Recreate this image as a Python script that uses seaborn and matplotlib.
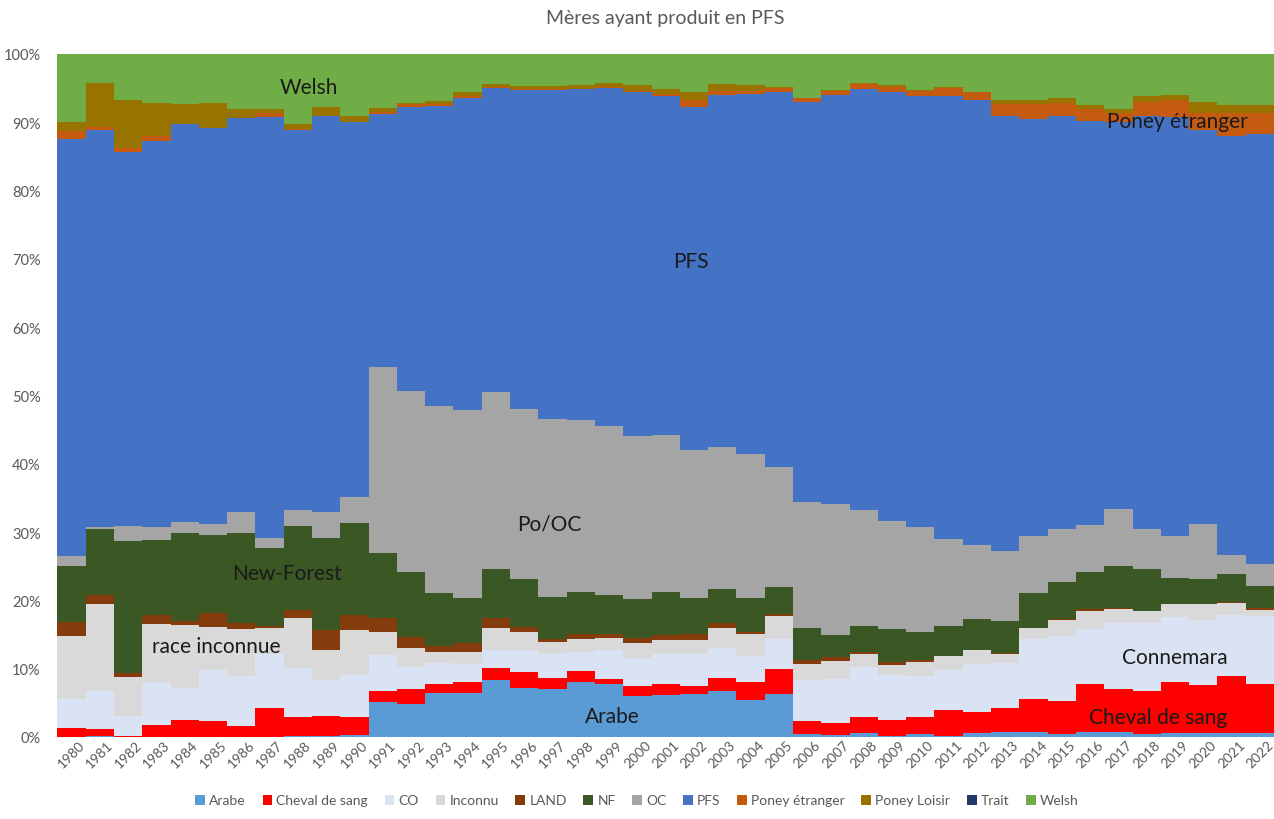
import numpy as np
import pandas as pd
import matplotlib.pyplot as plt
from matplotlib.patches import Patch
from matplotlib.ticker import PercentFormatter
import seaborn as sns

# years and share (%) of each breed of the mothers
years = list(range(1980, 2023))

arabe = [0, 0.2, 0, 0, 0, 0, 0, 0, 0.2, 0.2, 0.3, 5.1, 4.9, 6.4, 6.5, 8.4, 7.2, 7.0, 8.0, 7.8, 6.0, 6.1,
         6.3, 6.7, 5.4, 6.3, 0.4, 0.3, 0.6, 0.1, 0.5, 0.1, 0.6, 0.8, 0.7, 0.4, 0.8, 0.7, 0.5, 0.6, 0.6, 0.6, 0.6]
cheval = [1.3, 1.0, 0.2, 1.8, 2.5, 2.3, 1.6, 4.3, 2.7, 2.9, 2.7, 1.7, 2.2, 1.4, 1.6, 1.7, 2.3, 1.7, 1.6, 0.7, 1.4, 1.6,
          1.2, 2.0, 2.6, 3.6, 1.9, 1.7, 2.3, 2.4, 2.5, 3.9, 3.1, 3.5, 4.9, 4.9, 7.0, 6.4, 6.3, 7.5, 7.0, 8.4, 7.2]
co = [4.3, 5.5, 2.9, 6.3, 4.7, 7.5, 7.4, 7.8, 7.2, 5.3, 6.1, 5.2, 3.1, 3.0, 2.6, 2.7, 3.3, 3.4, 2.8, 4.2, 4.2, 4.5,
      4.7, 4.4, 3.9, 4.4, 6.1, 6.5, 7.4, 6.6, 6.0, 5.8, 7.0, 6.6, 8.8, 9.5, 8.0, 9.6, 9.9, 9.5, 9.6, 8.8, 9.9]
inconnu = [9.2, 12.8, 5.7, 8.4, 9.2, 6.3, 6.8, 3.9, 7.3, 4.3, 6.5, 3.3, 2.8, 1.7, 1.8, 3.2, 2.6, 1.8, 1.9, 1.8, 2.2, 2.0,
           2.0, 2.9, 3.2, 3.4, 2.3, 2.6, 1.9, 1.5, 2.0, 2.0, 2.0, 1.3, 1.5, 2.4, 2.7, 2.0, 1.7, 1.8, 2.2, 1.8, 0.9]
land = [2.1, 1.3, 0.5, 1.4, 0.6, 2.1, 0.9, 0.3, 1.2, 2.9, 2.2, 2.1, 1.7, 0.8, 1.2, 1.4, 0.7, 0.5, 0.8, 0.6, 0.7, 0.7,
        0.9, 0.7, 0.3, 0.3, 0.6, 0.6, 0.2, 0.4, 0.3, 0.1, 0.1, 0.1, 0.1, 0.1, 0.2, 0.2, 0.1, 0.1, 0.1, 0.1, 0.3]
nf = [8.2, 9.6, 19.4, 10.9, 12.8, 11.3, 13.1, 11.3, 12.3, 13.6, 13.6, 9.6, 9.5, 7.8, 6.7, 7.2, 7.0, 6.1, 6.1, 5.7, 5.7, 6.4,
      5.3, 4.9, 5.0, 3.9, 4.7, 3.3, 3.9, 4.8, 4.1, 4.4, 4.5, 4.7, 5.1, 5.4, 5.4, 6.2, 6.1, 3.8, 3.7, 4.1, 3.2]
oc = [1.4, 0.4, 2.2, 2.0, 1.7, 1.7, 3.1, 1.6, 2.3, 3.7, 3.8, 27.1, 26.5, 27.4, 27.4, 25.9, 24.9, 26.0, 25.2, 24.8, 23.8, 22.9,
      21.6, 20.8, 21.0, 17.7, 18.4, 19.1, 16.9, 15.8, 15.3, 12.7, 10.8, 10.2, 8.3, 7.8, 7.0, 8.3, 5.8, 6.1, 8.0, 2.8, 3.3]
pfs = [61.0, 58.1, 54.7, 56.4, 58.2, 58.0, 57.7, 61.5, 55.7, 58.0, 54.9, 37.1, 41.6, 43.9, 45.7, 44.5, 46.7, 48.2, 48.4, 49.4, 50.4, 49.6,
       50.3, 51.6, 52.7, 54.8, 58.6, 59.9, 61.7, 62.9, 63.1, 64.8, 65.2, 63.7, 61.1, 60.4, 59.1, 56.6, 60.5, 61.3, 57.6, 61.4, 62.9]
poney_etranger = [1.2, 0.4, 0.6, 0.8, 0, 0, 0, 0.6, 0.1, 0, 0, 0.3, 0.3, 0.3, 0.4, 0.2, 0.1, 0.2, 0.1, 0.1, 0.2, 0.4,
                  0.9, 0.6, 0.5, 0.6, 0.5, 0.6, 0.7, 0.7, 0.8, 1.2, 1.1, 1.7, 2.1, 1.9, 1.8, 1.4, 2.1, 2.6, 2.6, 3.4, 3.1]
poney_loisir = [1.3, 6.5, 7.1, 4.8, 3.0, 3.6, 1.4, 0.6, 0.8, 1.3, 0.8, 0.6, 0.2, 0.4, 0.6, 0.4, 0.5, 0.4, 0.5, 0.7, 0.9, 0.7,
                1.3, 1.0, 0.9, 0.1, 0.1, 0.1, 0.2, 0.2, 0.1, 0.1, 0.1, 0.6, 0.6, 0.7, 0.5, 0.6, 0.8, 0.7, 1.5, 1.1, 1.1]
trait = [0] * 43
welsh = [10.0, 4.2, 6.7, 7.2, 7.3, 7.2, 8.0, 8.1, 10.2, 7.8, 9.1, 7.9, 7.2, 6.9, 5.5, 4.4, 4.7, 4.7, 4.6, 4.2, 4.5, 5.1,
         5.5, 4.4, 4.5, 4.9, 6.4, 5.3, 4.2, 4.6, 5.3, 4.9, 5.5, 6.8, 6.8, 6.5, 7.5, 8.0, 6.2, 6.0, 7.1, 7.5, 7.5]

breeds = ['Arabe', 'Cheval de sang', 'CO', 'Inconnu', 'LAND', 'NF', 'OC', 'PFS',
          'Poney étranger', 'Poney Loisir', 'Trait', 'Welsh']
colors = ['#5B9BD5', '#FF0000', '#DAE3F3', '#D9D9D9', '#843C0C', '#3A5724', '#A5A5A5', '#4472C4',
          '#C55A11', '#997300', '#1F3864', '#70AD47']
series = [arabe, cheval, co, inconnu, land, nf, oc, pfs, poney_etranger, poney_loisir, trait, welsh]

rows = []
for b, vals in zip(breeds, series):
    for y, v in zip(years, vals):
        rows.append({'year': y, 'breed': b, 'share': v})
df = pd.DataFrame(rows)

sns.set_style('white')
plt.rcParams['font.family'] = ['Lato', 'DejaVu Sans']

fig = plt.figure(figsize=(12.74, 8.2), dpi=100)
ax = fig.add_axes([0.045, 0.10, 0.955, 0.833])

# seaborn stacks the last hue level at the bottom, so reverse the order
sns.histplot(data=df, x='year', weights='share', hue='breed',
             hue_order=breeds[::-1], palette=dict(zip(breeds, colors)),
             multiple='fill', discrete=True, element='step',
             alpha=1, linewidth=0, legend=False, ax=ax)

ax.set_xlim(1979.5, 2022.5)
ax.set_ylim(0, 1)
ax.set_xticks(years)
ax.set_xticklabels([str(y) for y in years], rotation=45, fontsize=10, color='#595959')
ax.set_yticks(np.arange(0, 1.01, 0.1))
ax.yaxis.set_major_formatter(PercentFormatter(1, decimals=0))
ax.tick_params(axis='y', labelsize=10.5, colors='#595959', length=0, pad=12)
ax.tick_params(axis='x', length=0, pad=1)
ax.set_xlabel('')
ax.set_ylabel('')
sns.despine(ax=ax, left=True, bottom=True)

ax.set_title('Mères ayant produit en PFS', fontsize=14, color='#595959', pad=22)

labels = [('Welsh', 1988.4, 0.952), ('PFS', 2001.9, 0.697), ('Po/OC', 1996.9, 0.313),
          ('New-Forest', 1987.6, 0.240), ('race inconnue', 1985.1, 0.133), ('Arabe', 1999.1, 0.031),
          ('Connemara', 2019.0, 0.117), ('Cheval de sang', 2018.4, 0.029), ('Poney étranger', 2019.1, 0.902)]
for txt, x, y in labels:
    ax.text(x, y, txt, ha='center', va='center', fontsize=15, color='#1a1a1a')

handles = [Patch(facecolor=c, edgecolor='none') for c in colors]
fig.legend(handles, breeds, loc='lower center', bbox_to_anchor=(0.5, 0.0), ncol=12,
           frameon=False, fontsize=10, handlelength=0.7, handleheight=0.7,
           handletextpad=0.3, columnspacing=1.2, labelcolor='#595959')

fig.savefig('out.png', dpi=100)
